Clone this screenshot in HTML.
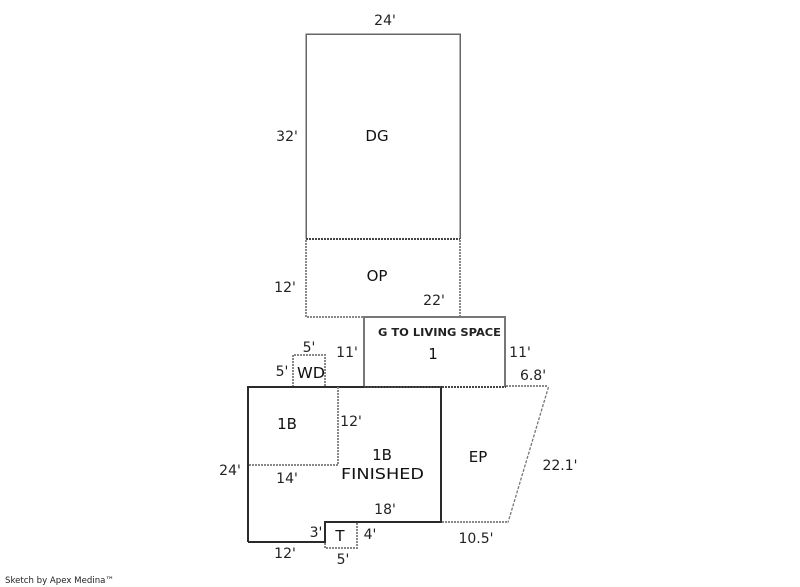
<!DOCTYPE html>
<html>
<head>
<meta charset="utf-8">
<style>
html,body{margin:0;padding:0;background:#fff;}
svg{display:block;}
text{font-family:"DejaVu Sans","Liberation Sans",sans-serif;font-size:14px;fill:#222;text-anchor:middle;}
.u{font-size:15px;fill:#111;}
.s{fill:none;stroke:#666;stroke-width:1.5;shape-rendering:crispEdges;}
.g{fill:none;stroke:#777;stroke-width:2;shape-rendering:crispEdges;}
.k{fill:none;stroke:#2a2a2a;stroke-width:2;shape-rendering:crispEdges;}
.d{fill:none;stroke:#888;stroke-width:2;stroke-dasharray:2 1;shape-rendering:crispEdges;}
.dd{fill:none;stroke:#444;stroke-width:2;stroke-dasharray:2 1;shape-rendering:crispEdges;}
</style>
</head>
<body>
<svg width="800" height="587" viewBox="0 0 800 587" xmlns="http://www.w3.org/2000/svg">
<!-- DG -->
<path class="s" d="M306 239V34H460V239"/>
<path class="dd" d="M306 239H460"/>
<!-- OP -->
<path class="d" d="M306 240V317H364M460 240V317"/>
<!-- 1 -->
<path class="g" d="M364 387V317H505V387"/>
<!-- WD -->
<path class="d" d="M293 387V355H325V387"/>
<!-- Main -->
<path class="k" d="M248 542V387H441V522H325V542H248"/>
<path class="dd" d="M364 387H506"/>
<!-- 1B inner -->
<path class="d" d="M338 387V465H249"/>
<!-- T -->
<path class="d" d="M325 543V548H357V523"/>
<!-- EP -->
<path class="d" d="M506 386H548M442 522H508"/>
<path fill="none" stroke="#777" stroke-width="1.3" stroke-dasharray="3 1.5" d="M548.5 387L508 522.5"/>
<!-- Labels -->
<text x="385" y="25">24'</text>
<text x="287" y="141">32'</text>
<text class="u" x="377" y="141">DG</text>
<text x="285" y="292">12'</text>
<text class="u" x="377" y="281">OP</text>
<text x="434" y="305">22'</text>
<text x="439.500" y="336" style="font-size:10.5px;font-weight:bold" textLength="123" lengthAdjust="spacingAndGlyphs">G TO LIVING SPACE</text>
<text class="u" x="433" y="359">1</text>
<text x="347" y="357">11'</text>
<text x="520" y="357">11'</text>
<text x="533" y="380">6.8'</text>
<text x="309" y="352">5'</text>
<text x="282" y="376">5'</text>
<text class="u" x="311" y="378" textLength="28" lengthAdjust="spacingAndGlyphs">WD</text>
<text class="u" x="287" y="429">1B</text>
<text x="351" y="426">12'</text>
<text class="u" x="382" y="460">1B</text>
<text class="u" x="382.500" y="479" textLength="83" lengthAdjust="spacingAndGlyphs">FINISHED</text>
<text class="u" x="478" y="462">EP</text>
<text x="560" y="470">22.1'</text>
<text x="230" y="475">24'</text>
<text x="287" y="483">14'</text>
<text x="385" y="514">18'</text>
<text x="316" y="537">3'</text>
<text class="u" x="340" y="541">T</text>
<text x="370" y="539">4'</text>
<text x="476" y="543">10.5'</text>
<text x="285" y="558">12'</text>
<text x="343" y="564">5'</text>
<text x="59.500" y="583" style="font-size:9px" textLength="109" lengthAdjust="spacingAndGlyphs">Sketch by Apex Medina™</text>
</svg>
</body>
</html>
